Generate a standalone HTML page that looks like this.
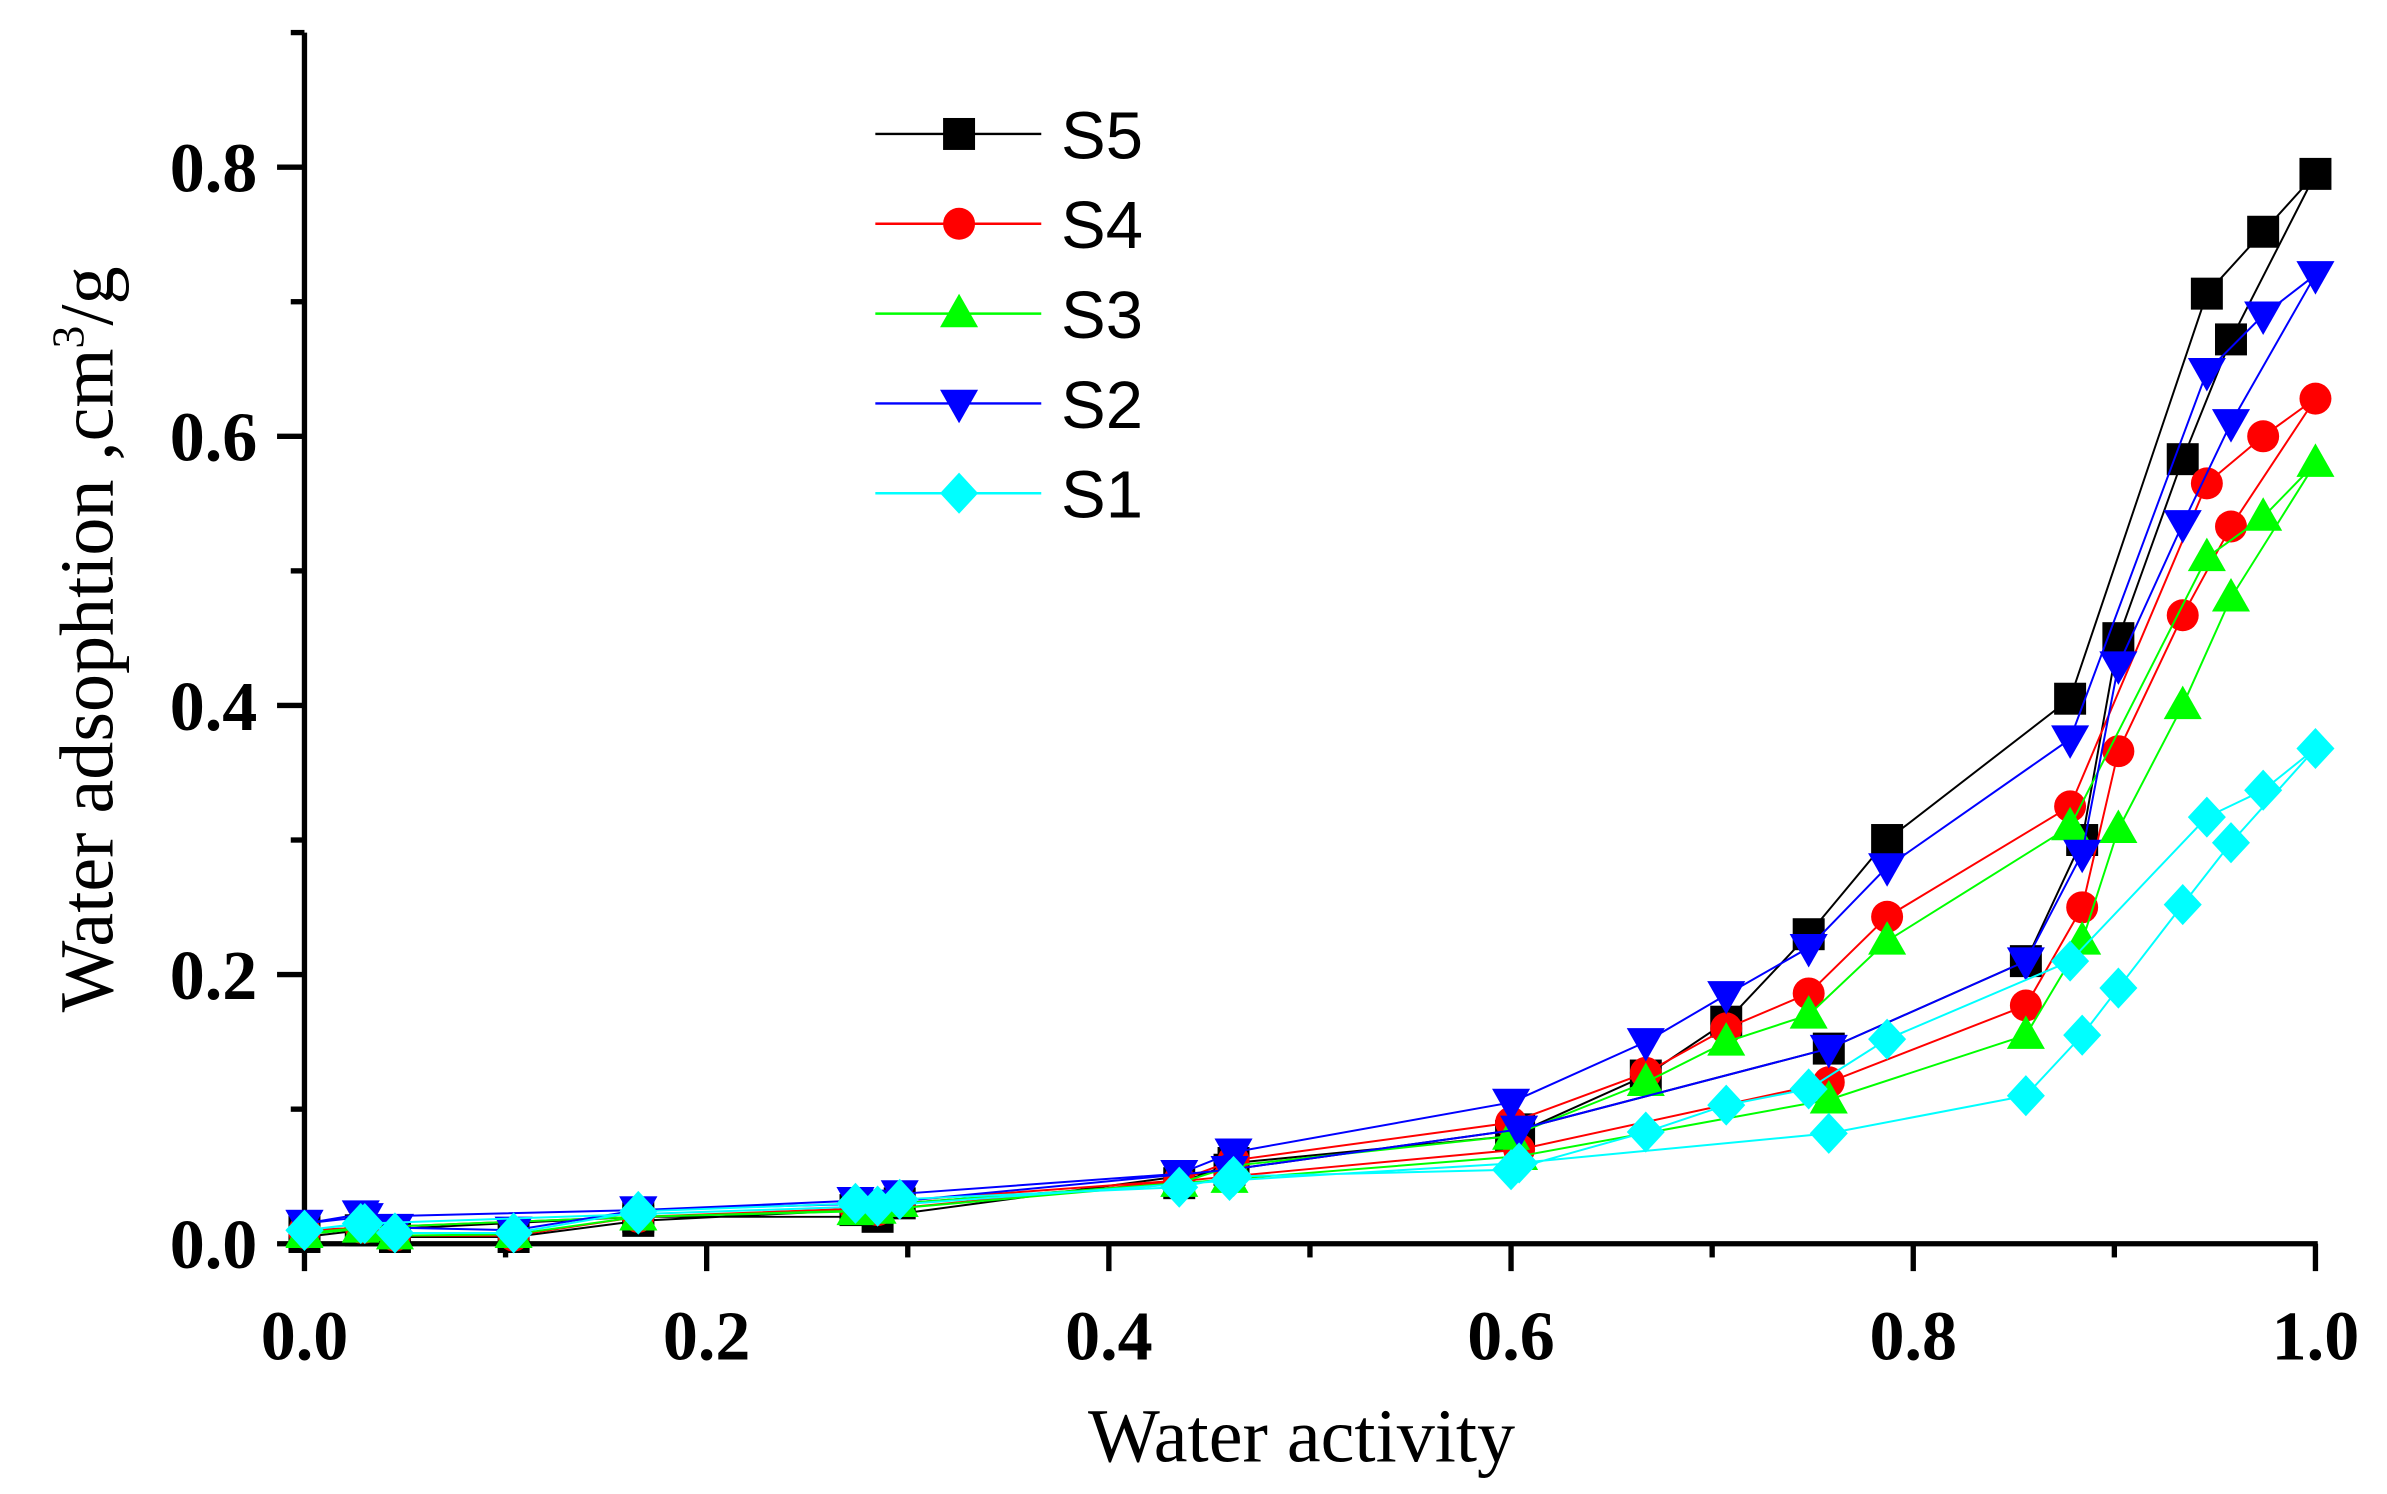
<!DOCTYPE html>
<html><head><meta charset="utf-8"><style>
html,body{margin:0;padding:0;background:#fff;}
svg{display:block;}
</style></head><body>
<svg id="chart" width="2387" height="1494" viewBox="0 0 1568 981.4" preserveAspectRatio="none" xmlns="http://www.w3.org/2000/svg">
<g id="axes"></g>
<g id="series"></g>
<g id="legend"></g>
<text x="855" y="960" font-family="Liberation Serif, serif" font-size="50" text-anchor="middle">Water activity</text>
<text transform="translate(74,420) rotate(-90)" font-family="Liberation Serif, serif" font-size="50" text-anchor="middle">Water adsophtion ,cm<tspan font-size="30" dy="-19">3</tspan><tspan dy="19">/g</tspan></text>
</svg>
<script>
const xTicks=[0,0.2,0.4,0.6,0.8,1.0];
const xTickLabels=["0.0","0.2","0.4","0.6","0.8","1.0"];
const yTicks=[0,0.2,0.4,0.6,0.8];
const yTickLabels=["0.0","0.2","0.4","0.6","0.8"];
const seriesNames=["S5","S4","S3","S2","S1"];
const seriesColors=["#000000","#ff0000","#00ff00","#0000ff","#00ffff"];
const seriesMarkers=["square","circle","up","down","diamond"];
const xValues=[0,0.028,0.045,0.104,0.166,0.274,0.296,0.435,0.462,0.6,0.667,0.707,0.748,0.787,0.878,0.946,0.974,1.0,0.958,0.934,0.902,0.884,0.856,0.758,0.604,0.46,0.285,0.166,0.03,0];
const s5=[0.005,0.01,0.005,0.005,0.017,0.025,0.03,0.045,0.06,0.08,0.125,0.165,0.23,0.30,0.405,0.706,0.752,0.795,0.672,0.583,0.45,0.30,0.21,0.145,0.085,0.055,0.02,0.02,0.01,0.01];
const s4=[0.008,0.012,0.006,0.006,0.02,0.026,0.032,0.047,0.062,0.09,0.127,0.16,0.186,0.243,0.325,0.565,0.60,0.628,0.533,0.467,0.366,0.25,0.177,0.12,0.07,0.05,0.025,0.02,0.012,0.01];
const s3=[0.007,0.011,0.006,0.007,0.02,0.024,0.03,0.045,0.058,0.08,0.12,0.15,0.17,0.225,0.31,0.51,0.54,0.58,0.48,0.40,0.308,0.225,0.155,0.107,0.065,0.048,0.025,0.02,0.012,0.008];
const s2=[0.015,0.022,0.012,0.01,0.025,0.032,0.037,0.052,0.068,0.105,0.15,0.185,0.22,0.28,0.375,0.648,0.69,0.72,0.61,0.535,0.43,0.29,0.21,0.145,0.085,0.055,0.03,0.025,0.02,0.015];
const s1=[0.01,0.015,0.008,0.008,0.024,0.03,0.033,0.042,0.05,0.055,0.083,0.103,0.115,0.152,0.21,0.317,0.337,0.368,0.298,0.252,0.19,0.155,0.11,0.082,0.06,0.047,0.028,0.022,0.015,0.01];
const seriesValues=[s5,s4,s3,s2,s1];

const NS="http://www.w3.org/2000/svg";
const X0=200,X1=1521,Y0=817,YPER=884;
function xs(v){return X0+v*(X1-X0);}
function ys(v){return Y0-v*YPER;}
function mk(tag,attrs,parent){const e=document.createElementNS(NS,tag);for(const k in attrs)e.setAttribute(k,attrs[k]);parent.appendChild(e);return e;}

const axes=document.getElementById('axes');
let l=mk('line',{x1:X0,y1:Y0,x2:X1+1.5,y2:Y0,stroke:'#000','stroke-width':3.5},axes);


l=mk('line',{x1:X0,y1:ys(0.9),x2:X0,y2:Y0+1.5,stroke:'#000','stroke-width':3.5},axes);


for(let i=0;i<=10;i++){const v=i/10;const len=(i%2==0)?18:9;
  const t=mk('line',{x1:xs(v),y1:Y0,x2:xs(v),y2:Y0+len,stroke:'#000','stroke-width':3.5},axes);
  
  }
for(let i=0;i<=9;i++){const v=i/10;const len=(i%2==0)?18:9;
  const t=mk('line',{x1:X0-len,y1:ys(v),x2:X0,y2:ys(v),stroke:'#000','stroke-width':3.5},axes);
  
  }
xTicks.forEach((v,i)=>{const t=mk('text',{x:xs(v),y:893,'font-family':'Liberation Serif, serif','font-size':46,'font-weight':'bold','text-anchor':'middle'},axes);t.textContent=xTickLabels[i];
  
  });
yTicks.forEach((v,i)=>{const t=mk('text',{x:169,y:ys(v)+16,'font-family':'Liberation Serif, serif','font-size':46,'font-weight':'bold','text-anchor':'end'},axes);t.textContent=yTickLabels[i];
  
  });

function marker(type,cx,cy,color,parent){
  const s=10.5;let e;
  if(type==='square')e=mk('rect',{x:cx-s,y:cy-s,width:2*s,height:2*s,fill:color},parent);
  else if(type==='circle')e=mk('ellipse',{cx:cx,cy:cy,rx:s,ry:s,fill:color},parent);
  else if(type==='up')e=mk('polygon',{points:`${cx},${cy-13} ${cx+12.5},${cy+9} ${cx-12.5},${cy+9}`,fill:color},parent);
  else if(type==='down')e=mk('polygon',{points:`${cx-12.5},${cy-9} ${cx+12.5},${cy-9} ${cx},${cy+13}`,fill:color},parent);
  else e=mk('polygon',{points:`${cx},${cy-13.5} ${cx+12.5},${cy} ${cx},${cy+13.5} ${cx-12.5},${cy}`,fill:color},parent);
  return e;
}
const sg=document.getElementById('series');
seriesValues.forEach((vals,si)=>{
  const g=mk('g',{},sg);
  
  
  const pts=vals.map((v,i)=>xs(xValues[i])+','+ys(v)).join(' ');
  const pl=mk('polyline',{points:pts,fill:'none',stroke:seriesColors[si],'stroke-width':1.3},g);
  
  
  vals.forEach((v,i)=>{const m=marker(seriesMarkers[si],xs(xValues[i]),ys(v),seriesColors[si],g);
    
    });
});
const lg=document.getElementById('legend');
const legY=[88,147,206,265,324];
seriesNames.forEach((n,i)=>{
  const g=mk('g',{},lg);
  
  
  mk('line',{x1:575,y1:legY[i],x2:684,y2:legY[i],stroke:seriesColors[i],'stroke-width':1.6},g);
  marker(seriesMarkers[i],630,legY[i],seriesColors[i],g);
  const t=mk('text',{x:697,y:legY[i]+16,'font-family':'Liberation Sans, sans-serif','font-size':44},g);
  t.textContent=n;
});
</script>
</body></html>
